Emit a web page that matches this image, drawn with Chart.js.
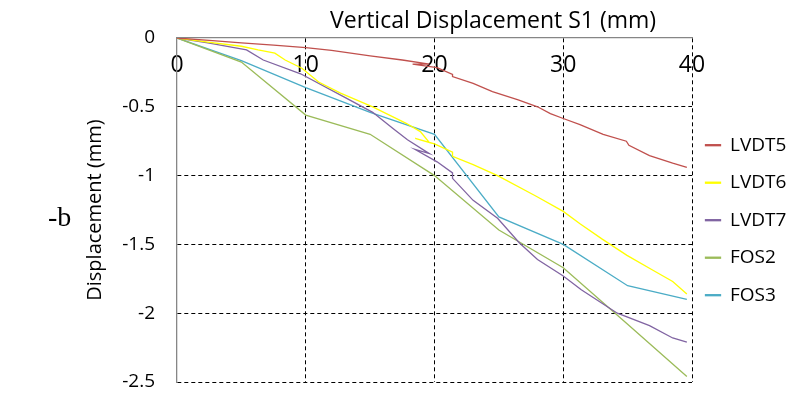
<!DOCTYPE html>
<html>
<head>
<meta charset="utf-8">
<script src="https://cdn.jsdelivr.net/npm/chart.js@4"></script>
<style>
  body { margin: 0; background: #fff; }
  #wrap { position: relative; width: 793px; height: 394px; }
  #tag { position: absolute; left: 48px; top: 201px; font: 28px "Liberation Serif", serif; color: #000; }
</style>
</head>
<body>
<div id="wrap">
  <canvas id="chart" width="793" height="394"></canvas>
  <div id="tag">-b</div>
</div>
<script>
// data: [S1 displacement, displacement] pairs
const seriesNames = ['LVDT5', 'LVDT6', 'LVDT7', 'FOS2', 'FOS3'];
const seriesColors = ['#C0504D', '#FFFF00', '#8064A2', '#9BBB59', '#4BACC6'];

const LVDT5 = [[0,0],[2.5,-0.018],[5,-0.035],[7.5,-0.052],[10,-0.07],[12,-0.09],[15,-0.13],[17.5,-0.16],
  [19.6,-0.19],[18.3,-0.19],[20.2,-0.215],[21.4,-0.265],[21.4,-0.28],[23,-0.33],[24.5,-0.39],[26.5,-0.45],
  [28,-0.5],[29,-0.55],[30,-0.585],[31.3,-0.63],[33.1,-0.7],[34.9,-0.75],[35.1,-0.78],[36.7,-0.855],
  [38.5,-0.91],[39.6,-0.94]];
const LVDT6 = [[0,0],[2.4,-0.03],[5,-0.06],[6.3,-0.087],[7.6,-0.11],[8.4,-0.16],[9.7,-0.22],[11,-0.32],
  [12.7,-0.4],[15.2,-0.5],[17.8,-0.62],[18.9,-0.68],[19.6,-0.76],[18.5,-0.73],[20,-0.77],[21.4,-0.83],
  [21.4,-0.86],[23,-0.92],[24.9,-1.0],[27.9,-1.15],[30,-1.26],[31.3,-1.35],[33,-1.46],[34.95,-1.58],
  [37,-1.69],[38.5,-1.77],[39.6,-1.86]];
const LVDT7 = [[0,0],[2.4,-0.035],[5.4,-0.087],[6.7,-0.16],[9.6,-0.26],[13,-0.43],[15.2,-0.54],[16.8,-0.66],
  [17.9,-0.74],[19.6,-0.84],[18.5,-0.81],[20.2,-0.9],[21.4,-0.98],[21.4,-1.02],[23,-1.18],[24.9,-1.31],
  [26.6,-1.49],[28,-1.61],[30,-1.73],[31.4,-1.83],[34.2,-2.0],[36.7,-2.09],[38.5,-2.18],[39.6,-2.21]];
const FOS2 = [[0,0],[5,-0.175],[10,-0.56],[15,-0.7],[20,-1.0],[25,-1.395],[30,-1.67],[35,-2.08],[39.6,-2.46]];
const FOS3 = [[0,0],[5,-0.165],[10,-0.36],[15,-0.54],[20,-0.7],[25,-1.3],[30,-1.5],[35,-1.8],[39.6,-1.9]];

const xTitle = 'Vertical Displacement S1 (mm)';
const yTitle = 'Displacement (mm)';

const allSeries = [LVDT5, LVDT6, LVDT7, FOS2, FOS3];
const font = 'Open Sans';

const gridColor = (c) => c.tick && c.tick.value === 0 ? 'rgba(0,0,0,0)' : '#000';

new Chart(document.getElementById('chart'), {
  type: 'scatter',
  data: {
    datasets: allSeries.map((pts, i) => ({
      label: seriesNames[i],
      data: pts.map(p => ({ x: p[0], y: p[1] })),
      showLine: true,
      borderColor: seriesColors[i],
      backgroundColor: seriesColors[i],
      borderWidth: 1.3,
      pointRadius: 0,
      tension: 0
    }))
  },
  options: {
    responsive: false,
    animation: false,
    layout: { padding: { left: 79, top: 4, right: 0, bottom: 12 } },
    scales: {
      x: {
        type: 'linear',
        position: 'top',
        min: 0, max: 40,
        afterFit: (s) => { s.height = 34; },
        ticks: { stepSize: 10, mirror: true, padding: 14, color: '#000', font: { family: font, size: 23 }, callback: v => String(v) },
        grid: { color: gridColor, drawTicks: false, lineWidth: 1 },
        border: { color: '#868686', width: 1.3, dash: [4, 3] },
        title: { display: true, text: xTitle + '\u00a0'.repeat(6), align: 'end', color: '#000',
                 font: { family: font, size: 23 }, padding: { top: 4, bottom: 0 } }
      },
      y: {
        type: 'linear',
        min: -2.5, max: 0,
        afterFit: (s) => { s.width = 98; },
        ticks: { stepSize: 0.5, padding: 0, color: '#000', font: { family: font, size: 19 }, callback: v => String(v) },
        grid: { color: gridColor, drawTicks: true, tickLength: 22, tickColor: 'rgba(0,0,0,0)', lineWidth: 1 },
        border: { color: '#868686', width: 1.3, dash: [4, 3] },
        title: { display: true, text: yTitle, color: '#000', font: { family: font, size: 20 }, padding: { top: 4, bottom: 0 } }
      }
    },
    plugins: {
      legend: {
        position: 'right',
        fullSize: false,
        maxWidth: 101,
        title: { display: true, text: ' ', font: { size: 12 }, padding: 3 },
        labels: { boxWidth: 15, boxHeight: 1, padding: 18.5, color: '#000', font: { family: font, size: 19 } }
      },
      tooltip: { enabled: false }
    }
  },
  plugins: [{
    id: 'legendNudge',
    afterLayout(chart) {
      chart.legend.left -= 5;
      chart.legend.right -= 5;
    }
  }]
});
</script>
</body>
</html>
